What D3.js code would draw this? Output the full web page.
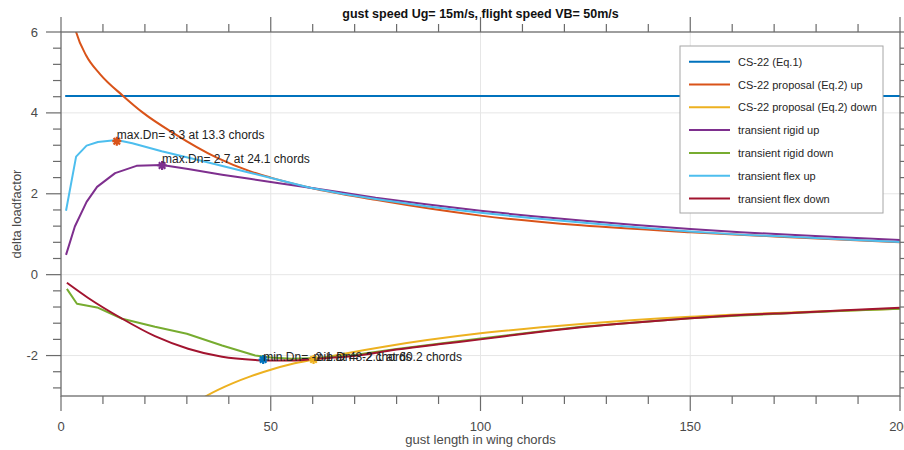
<!DOCTYPE html>
<html>
<head>
<meta charset="utf-8">
<script src="https://cdn.jsdelivr.net/npm/d3@7"></script>
<style>
  html, body { margin: 0; padding: 0; background: #fff; }
  svg { display: block; font-family: "Liberation Sans", Arial, Helvetica, sans-serif; }
</style>
</head>
<body>
<svg id="chart" width="904" height="450"></svg>
<script>
// Gust length in wing chords (x) vs. delta load factor (y)

// CS-22 (Eq.1): constant
const eq1X = [1, 200];
const eq1Y = [4.42, 4.42];

// CS-22 proposal (Eq.2) up
const propUpX = [2.5, 3.6, 6.0, 9.3, 14.8, 19.6, 26.8, 37, 45, 50, 59.4, 75, 100, 124, 150, 175, 200];
const propUpY = [6.46, 6.0, 5.42, 4.96, 4.42, 4.0, 3.5, 2.9, 2.56, 2.40, 2.15, 1.85, 1.46, 1.22, 1.05, 0.92, 0.80];

// CS-22 proposal (Eq.2) down
const propDnX = [30, 34.6, 41, 45, 50, 55, 60.2, 77, 100, 124, 150, 175, 200];
const propDnY = [-3.3, -3.0, -2.68, -2.52, -2.35, -2.21, -2.1, -1.78, -1.45, -1.22, -1.04, -0.93, -0.84];

// transient rigid up
const rigidUpX = [1.2, 3.3, 6.1, 8.6, 12.9, 18, 24.1, 30.3, 38.4, 45, 52, 59.4, 67, 75, 87, 100, 112, 124, 137, 150, 162, 175, 187, 200];
const rigidUpY = [0.49, 1.19, 1.8, 2.17, 2.51, 2.69, 2.71, 2.61, 2.47, 2.37, 2.26, 2.15, 2.03, 1.9, 1.74, 1.58, 1.45, 1.34, 1.23, 1.13, 1.05, 0.98, 0.92, 0.86];

// transient rigid down
const rigidDnX = [1.4, 3.8, 8.6, 14.6, 22.4, 30, 38.4, 46.3, 50, 55, 61, 69, 80, 90, 100, 112, 124, 137, 150, 162, 175, 187, 200];
const rigidDnY = [-0.35, -0.72, -0.81, -1.09, -1.29, -1.46, -1.75, -2.0, -2.05, -2.08, -2.06, -2.0, -1.84, -1.71, -1.58, -1.43, -1.29, -1.18, -1.08, -1.01, -0.95, -0.89, -0.84];

// transient flex up
const flexUpX = [1.2, 3.6, 6.1, 8.8, 13.3, 17, 24, 34.4, 45, 52, 59.4, 67, 75, 87, 100, 112, 124, 137, 150, 162, 175, 187, 200];
const flexUpY = [1.58, 2.92, 3.19, 3.28, 3.33, 3.25, 3.05, 2.79, 2.52, 2.34, 2.15, 2.0, 1.87, 1.69, 1.53, 1.4, 1.29, 1.17, 1.07, 0.99, 0.93, 0.87, 0.81];

// transient flex down
const flexDnX = [1.4, 6.4, 14.6, 22.4, 30.3, 38.4, 46.3, 48.2, 55, 61, 69, 80, 90, 100, 112, 124, 137, 150, 162, 175, 187, 200];
const flexDnY = [-0.2, -0.57, -1.09, -1.52, -1.83, -2.03, -2.11, -2.12, -2.12, -2.08, -2.02, -1.85, -1.72, -1.6, -1.44, -1.3, -1.18, -1.08, -1.0, -0.94, -0.88, -0.82];

const seriesNames = [
  "CS-22 (Eq.1)",
  "CS-22 proposal (Eq.2) up",
  "CS-22 proposal (Eq.2) down",
  "transient rigid up",
  "transient rigid down",
  "transient flex up",
  "transient flex down"
];
const seriesColors = ["#0072BD", "#D95319", "#EDB120", "#7E2F8E", "#77AC30", "#4DBEEE", "#A2142F"];

// extreme-value annotations
const annotX = [13.3, 24.1, 48.2, 60.2];
const annotY = [3.3, 2.7, -2.1, -2.1];
const annotKind = ["max", "max", "min", "min"];
const annotColors = ["#D95319", "#7E2F8E", "#0072BD", "#EDB120"];

const xTicks = [0, 50, 100, 150, 200];
const yTicks = [-2, 0, 2, 4, 6];

const titleText = "gust speed Ug= 15m/s, flight speed VB= 50m/s";
const xLabelText = "gust length in wing chords";
const yLabelText = "delta loadfactor";

// ---------------------------------------------------------------
const svg = d3.select("#chart");
const L = 61, R = 900, T = 32, B = 396;

const x = d3.scaleLinear().domain([0, 200]).range([L, R]);
const y = d3.scaleLinear().domain([-3, 6]).range([B, T]);

const axisColor = "#6b6b6b";
const labelColor = "#4a4a4a";

// grid
const grid = svg.append("g");
grid.selectAll("line.gx").data(xTicks.filter(d => d > 0 && d < 200)).join("line")
  .attr("x1", d => x(d)).attr("x2", d => x(d)).attr("y1", T).attr("y2", B)
  .attr("stroke", "#e6e6e6").attr("stroke-width", 1);
grid.selectAll("line.gy").data(yTicks.filter(d => d > -3 && d < 6)).join("line")
  .attr("x1", L).attr("x2", R).attr("y1", d => y(d)).attr("y2", d => y(d))
  .attr("stroke", "#e6e6e6").attr("stroke-width", 1);

// clip
svg.append("defs").append("clipPath").attr("id", "plotClip")
  .append("rect").attr("x", L).attr("y", T).attr("width", R - L).attr("height", B - T);

const seriesData = [
  [eq1X, eq1Y], [propUpX, propUpY], [propDnX, propDnY],
  [rigidUpX, rigidUpY], [rigidDnX, rigidDnY], [flexUpX, flexUpY], [flexDnX, flexDnY]
];
const smoothSeries = [false, true, true, false, false, false, true];

const plot = svg.append("g").attr("clip-path", "url(#plotClip)");
seriesData.forEach(([xs, ys], i) => {
  const pts = xs.map((v, k) => [v, ys[k]]);
  const line = d3.line()
    .x(d => x(d[0])).y(d => y(d[1]))
    .curve(smoothSeries[i] ? d3.curveMonotoneX : d3.curveLinear);
  plot.append("path").datum(pts)
    .attr("d", line)
    .attr("fill", "none")
    .attr("stroke", seriesColors[i])
    .attr("stroke-width", 2)
    .attr("stroke-linejoin", "round");
});

// asterisk markers and labels
const star = r => `M${-r},0L${r},0M0,${-r}L0,${r}M${-r*0.72},${-r*0.72}L${r*0.72},${r*0.72}M${-r*0.72},${r*0.72}L${r*0.72},${-r*0.72}`;
annotX.forEach((ax, i) => {
  plot.append("path")
    .attr("transform", `translate(${x(ax)},${y(annotY[i])})`)
    .attr("d", star(4.5))
    .attr("stroke", annotColors[i]).attr("stroke-width", 2.2).attr("fill", "none");
});
annotX.forEach((ax, i) => {
  svg.append("text")
    .attr("x", x(ax)).attr("y", y(annotY[i]) + (annotKind[i] === "max" ? -2 : 1.5))
    .attr("font-size", 12).attr("fill", "#222")
    .text(`${annotKind[i]}.Dn= ${annotY[i]} at ${ax} chords`);
});

// axes box with outward ticks on all four sides
const axes = svg.append("g").attr("stroke", axisColor).attr("fill", "none");
axes.append("rect").attr("x", L).attr("y", T).attr("width", R - L).attr("height", B - T)
  .attr("stroke-width", 1.3);

const xMinor = d3.range(0, 201, 10);
const yMinor = d3.range(-2.8, 6.01, 0.4).map(v => +v.toFixed(2));
const isMajorX = v => xTicks.includes(v);
const isMajorY = v => yTicks.some(t => Math.abs(t - v) < 1e-6);

xMinor.forEach(v => {
  const len = isMajorX(v) ? 15 : 8;
  axes.append("line").attr("x1", x(v)).attr("x2", x(v)).attr("y1", B).attr("y2", B + len).attr("stroke-width", 1.2);
  axes.append("line").attr("x1", x(v)).attr("x2", x(v)).attr("y1", T).attr("y2", T - len).attr("stroke-width", 1.2);
});
yMinor.forEach(v => {
  const len = isMajorY(v) ? 15 : 8;
  axes.append("line").attr("x1", L).attr("x2", L - len).attr("y1", y(v)).attr("y2", y(v)).attr("stroke-width", 1.2);
  axes.append("line").attr("x1", R).attr("x2", R + len).attr("y1", y(v)).attr("y2", y(v)).attr("stroke-width", 1.2);
});

// tick labels
svg.append("g").selectAll("text").data(xTicks).join("text")
  .attr("x", d => x(d)).attr("y", 431)
  .attr("text-anchor", "middle").attr("font-size", 13).attr("fill", labelColor)
  .text(d => d);
svg.append("g").selectAll("text").data(yTicks).join("text")
  .attr("x", 38).attr("y", d => y(d) + 4.5)
  .attr("text-anchor", "end").attr("font-size", 13).attr("fill", labelColor)
  .text(d => d);

// title and axis labels
svg.append("text").attr("x", (L + R) / 2).attr("y", 18)
  .attr("text-anchor", "middle").attr("font-size", 12.5).attr("font-weight", "bold").attr("fill", "#111")
  .text(titleText);
svg.append("text").attr("x", (L + R) / 2).attr("y", 444)
  .attr("text-anchor", "middle").attr("font-size", 13).attr("fill", labelColor)
  .text(xLabelText);
svg.append("text").attr("transform", `translate(21,${(T + B) / 2}) rotate(-90)`)
  .attr("text-anchor", "middle").attr("font-size", 13).attr("fill", labelColor)
  .text(yLabelText);

// legend
const lg = svg.append("g").attr("transform", "translate(680,46)");
lg.append("rect").attr("width", 203).attr("height", 167)
  .attr("fill", "#fff").attr("stroke", "#a6a6a6").attr("stroke-width", 1);
seriesNames.forEach((name, i) => {
  const yy = 15.7 + i * 22.8;
  lg.append("line").attr("x1", 9).attr("x2", 50).attr("y1", yy).attr("y2", yy)
    .attr("stroke", seriesColors[i]).attr("stroke-width", 2);
  lg.append("text").attr("x", 58).attr("y", yy + 4)
    .attr("font-size", 11).attr("fill", "#262626").text(name);
});
</script>
</body>
</html>
